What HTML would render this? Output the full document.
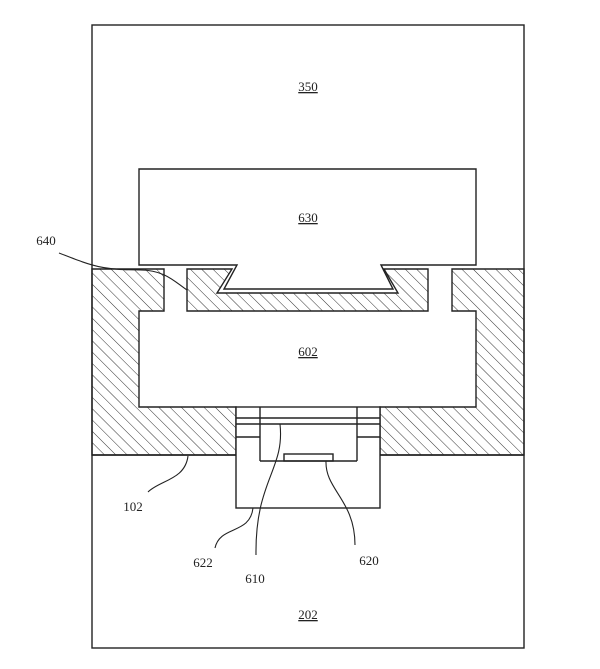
<!DOCTYPE html>
<html><head><style>
html,body{margin:0;padding:0;background:#fff;width:600px;height:669px;overflow:hidden}
svg text{font-family:"Liberation Serif",serif;font-size:13px;fill:#222}
</style></head><body>
<svg width="600" height="669" viewBox="0 0 600 669" xmlns="http://www.w3.org/2000/svg">
<defs>
<pattern id="h" patternUnits="userSpaceOnUse" width="8" height="8" patternTransform="rotate(-45)">
<line x1="0" y1="0" x2="0" y2="8" stroke="#333" stroke-width="1"/>
</pattern>
</defs>
<g stroke="#222" stroke-width="1.4" fill="none">
<rect x="92" y="25" width="432" height="623"/>
<line x1="92" y1="455" x2="524" y2="455"/>
<path d="M92,269 L164,269 L164,311 L139,311 L139,407 L236,407 L236,455 L92,455 Z" fill="url(#h)"/>
<path d="M524,269 L452,269 L452,311 L476,311 L476,407 L380,407 L380,455 L524,455 Z" fill="url(#h)"/>
<path d="M187,269 L232,269 L217,293 L398,293 L384,269 L428,269 L428,311 L187,311 Z" fill="url(#h)"/>
<path d="M139,169 L476,169 L476,265 L381,265 L393,289 L224,289 L237,265 L139,265 Z" fill="#fff"/>
<rect x="236" y="407" width="144" height="101" fill="#fff"/>
<line x1="260" y1="407" x2="260" y2="461"/>
<line x1="357" y1="407" x2="357" y2="461"/>
<line x1="260" y1="461" x2="357" y2="461"/>
<line x1="236" y1="418" x2="380" y2="418"/>
<line x1="236" y1="424" x2="380" y2="424"/>
<line x1="236" y1="437" x2="260" y2="437"/>
<line x1="357" y1="437" x2="380" y2="437"/>
<rect x="284" y="454" width="49" height="7"/>
<path d="M59,253 C90,265 100,270 140,270 C165,270 175,282 187,290" stroke-width="1.1"/>
<path d="M188,456 C185,480 160,480 148,492" stroke-width="1.1"/>
<path d="M253,508 C250,535 220,525 215,548" stroke-width="1.1"/>
<path d="M280,424 C285,470 255,480 256,555" stroke-width="1.1"/>
<path d="M326,461 C325,490 355,500 355,545" stroke-width="1.1"/>
</g>
<g text-anchor="middle">
<text x="308" y="91" text-decoration="underline">350</text>
<text x="308" y="222" text-decoration="underline">630</text>
<text x="308" y="356" text-decoration="underline">602</text>
<text x="308" y="619" text-decoration="underline">202</text>
<text x="46" y="245">640</text>
<text x="133" y="511">102</text>
<text x="203" y="567">622</text>
<text x="255" y="583">610</text>
<text x="369" y="565">620</text>
</g>
</svg>
</body></html>
